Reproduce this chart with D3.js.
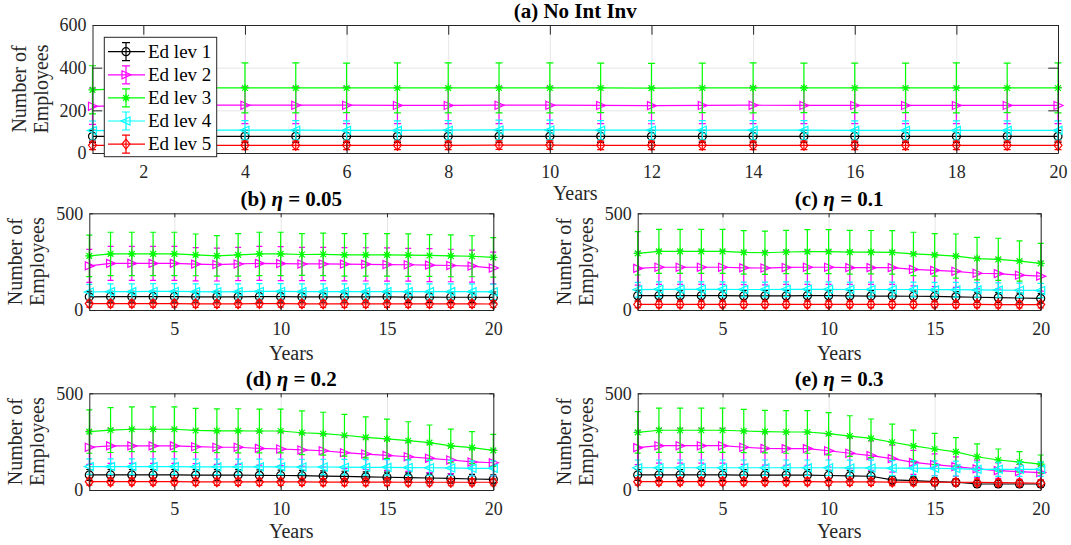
<!DOCTYPE html>
<html lang="en">
<head>
<meta charset="UTF-8">
<title>Number of Employees by education level</title>
<style>
  body { margin: 0; background: #fff; }
  svg { display: block; font-family: "Liberation Serif", "Times New Roman", serif; }
  .tick text { fill: #262626; font-size: 18px; font-family: "Liberation Serif", serif; }
  .frame path.domain, .frame line { stroke: #262626; }
  .grid line { stroke: #e6e6e6; }
  .grid path { display: none; }
  .title { font-weight: bold; font-size: 21px; fill: #000; }
  .lab { font-size: 20px; fill: #262626; }
  .leg text { font-size: 19px; fill: #000; }
</style>
</head>
<body>
<script src="https://d3js.org/d3.v7.min.js"></script>
<script>
// years on the x axis
var years = [1,2,3,4,5,6,7,8,9,10,11,12,13,14,15,16,17,18,19,20];
var seriesNames = ["Ed lev 1", "Ed lev 2", "Ed lev 3", "Ed lev 4", "Ed lev 5"];
var ticksA = [2,4,6,8,10,12,14,16,18,20];
var ticksSmall = [5,10,15,20];
var yTicksA = [0,200,400,600];
var yTicksSmall = [0,500];

// (a) No Int Inv : means (lev1..lev5) and error half-widths
var meanA = [
  [78,78,78,78,78,78,78,78,78,78,78,78,78,78,78,78,78,78,78,78],
  [219,224,224,224,224,224,223,223,224,224,223,222,223,224,223,223,223,223,223,223],
  [296,305,305,305,305,305,305,305,305,305,305,304,305,305,305,305,305,305,305,305],
  [105,107,107,107,107,106,106,107,108,108,107,107,107,107,107,106,106,106,106,106],
  [36,36,36,36,36,36,36,36,37,37,36,36,36,36,36,36,36,36,36,36]
];
var errA = [
  [28,28,28,28,28,28,28,28,28,28,28,28,28,28,28,28,28,28,28,28],
  [85,86,86,86,86,86,85,85,86,86,85,85,85,86,85,85,85,85,85,85],
  [113,117,117,117,117,116,117,117,117,117,116,116,116,117,116,116,116,117,116,117],
  [45,45,45,45,45,45,45,45,46,46,45,45,45,45,45,45,45,45,45,45],
  [20,20,20,20,20,20,20,20,20,20,20,20,20,20,20,20,20,20,20,20]
];

// (b) eta = 0.05
var meanB = [
  [68,69,69,69,69,68,68,68,69,69,68,68,68,68,68,67,67,66,66,65],
  [228,241,241,241,241,237,235,238,241,240,238,238,237,236,235,234,232,230,227,217],
  [280,290,290,290,290,285,280,285,290,290,287,288,285,285,285,284,282,280,278,272],
  [93,95,95,96,96,95,94,95,96,96,95,95,95,95,95,95,95,95,95,94],
  [33,33,33,33,33,32,32,32,33,33,32,32,32,32,32,32,32,32,32,31]
];
var errB = [
  [28,28,28,28,28,28,28,28,28,28,28,28,28,28,28,28,28,28,28,28],
  [85,88,88,88,88,86,85,86,88,88,86,86,86,86,86,85,85,84,83,82],
  [107,112,112,112,112,108,105,110,112,112,108,110,110,110,110,110,108,108,106,102],
  [40,40,40,40,40,40,40,40,40,40,40,40,40,40,40,40,40,40,40,40],
  [18,18,18,18,18,18,18,18,18,18,18,18,18,18,18,18,18,18,18,18]
];

// (c) eta = 0.1
var meanC = [
  [74,74,74,74,74,73,73,73,74,74,73,72,72,71,70,68,66,64,62,60],
  [215,221,221,221,221,218,217,220,221,221,219,219,219,210,205,200,190,188,180,175],
  [293,303,303,303,303,298,296,300,302,302,299,299,298,290,285,279,266,262,253,241],
  [105,107,107,107,107,106,106,107,107,107,106,106,106,106,105,105,104,103,102,101],
  [29,29,29,29,29,29,29,29,29,29,29,29,29,29,29,29,29,28,28,28]
];
var errC = [
  [28,28,28,28,28,28,28,28,28,28,28,28,28,27,27,27,26,26,25,25],
  [86,88,88,88,88,87,87,88,88,88,87,87,87,85,84,83,81,80,78,77],
  [112,114,114,114,114,112,112,112,114,114,113,112,112,112,110,114,110,109,104,104],
  [38,38,38,38,38,38,38,38,38,38,38,38,38,38,38,38,38,37,37,37],
  [17,17,17,17,17,17,17,17,17,17,17,17,17,17,17,17,17,17,17,17]
];

// (d) eta = 0.2
var meanD = [
  [78,78,78,78,78,77,77,77,76,75,74,72,70,68,66,64,62,60,57,55],
  [221,228,228,228,228,224,221,221,215,212,207,203,193,186,179,172,164,155,145,141],
  [302,310,314,314,314,308,306,306,305,305,296,291,283,272,264,255,245,228,219,205],
  [121,121,121,121,121,120,120,120,120,120,119,119,118,117,117,116,115,114,112,112],
  [43,43,43,43,43,42,42,42,42,42,42,41,41,41,41,40,40,40,40,40]
];
var errD = [
  [28,28,28,28,28,28,28,28,28,28,27,27,27,26,26,25,25,24,24,23],
  [88,90,90,90,90,88,88,88,86,86,85,84,82,80,78,76,74,72,70,68],
  [112,116,116,116,116,114,113,114,113,113,113,111,108,106,102,98,91,87,83,83],
  [40,40,40,40,40,40,40,40,40,40,40,40,40,40,40,40,39,39,39,39],
  [18,18,18,18,18,18,18,18,18,18,18,18,18,18,18,18,18,18,18,18]
];

// (e) eta = 0.3
var meanE = [
  [78,78,78,78,78,77,77,77,77,75,73,71,52,48,43,40,31,31,31,31],
  [219,229,229,229,229,221,215,214,214,203,190,178,162,143,131,121,109,100,95,90],
  [298,309,309,309,309,305,302,300,300,291,279,267,247,228,212,197,172,155,145,134],
  [115,115,115,115,115,115,115,115,115,115,114,114,113,113,112,111,107,107,107,107],
  [43,43,43,43,43,43,43,43,43,42,42,42,41,41,41,40,39,38,37,35]
];
var errE = [
  [28,28,28,28,28,28,28,28,28,27,27,26,22,21,20,19,17,17,17,17],
  [88,90,90,90,90,88,86,86,86,84,80,76,70,62,56,50,45,40,38,36],
  [107,114,114,114,114,112,110,110,110,109,105,100,94,82,81,74,66,57,53,47],
  [40,40,40,40,40,40,40,40,40,40,40,40,39,39,39,38,37,37,37,37],
  [18,18,18,18,18,18,18,18,18,18,18,18,18,18,18,18,17,17,17,17]
];

var colors = ["#000000", "#ff00ff", "#00ff00", "#00ffff", "#ff0000"];
var markers = ["o", ">", "*", "<", "d"];

// panel layout (pixel boxes)
var panels = [
  {title: ["(a) No Int Inv"], mean: meanA, err: errA, x0: 92.5, x1: 1058, y0: 25, y1: 153,
   ymax: 600, xt: ticksA, yt: yTicksA, tick: 9.7, titleY: 18, xlabY: 200, cap: 7, legend: true},
  {title: ["(b) ", "η", " = 0.05"], mean: meanB, err: errB, x0: 89.3, x1: 493.3, y0: 213.3, y1: 310,
   ymax: 500, xt: ticksSmall, yt: yTicksSmall, tick: 4, titleY: 206, xlabY: 360, cap: 6},
  {title: ["(c) ", "η", " = 0.1"], mean: meanC, err: errC, x0: 637.7, x1: 1040.7, y0: 213.3, y1: 310,
   ymax: 500, xt: ticksSmall, yt: yTicksSmall, tick: 4, titleY: 206, xlabY: 360, cap: 6},
  {title: ["(d) ", "η", " = 0.2"], mean: meanD, err: errD, x0: 89.3, x1: 493.3, y0: 393.3, y1: 490,
   ymax: 500, xt: ticksSmall, yt: yTicksSmall, tick: 4, titleY: 386, xlabY: 538, cap: 6},
  {title: ["(e) ", "η", " = 0.3"], mean: meanE, err: errE, x0: 637.7, x1: 1040.7, y0: 393.3, y1: 490,
   ymax: 500, xt: ticksSmall, yt: yTicksSmall, tick: 4, titleY: 386, xlabY: 538, cap: 6}
];

var W = 1071, H = 545;
var svg = d3.select("body").append("svg").attr("width", W).attr("height", H);

function markerPath(m, s) {
  if (m === "o") return d3.symbol(d3.symbolCircle, Math.PI * s * s)();
  if (m === ">") return "M" + (-s) + "," + (-s) + "L" + (s + 1) + ",0L" + (-s) + "," + s + "Z";
  if (m === "<") return "M" + s + "," + (-s) + "L" + (-s - 1) + ",0L" + s + "," + s + "Z";
  if (m === "d") return "M0," + (-s - 1) + "L" + s + ",0L0," + (s + 1) + "L" + (-s) + ",0Z";
  var d = s * 0.72;
  return "M0," + (-s) + "V" + s + "M" + (-s) + ",0H" + s +
         "M" + (-d) + "," + (-d) + "L" + d + "," + d + "M" + (-d) + "," + d + "L" + d + "," + (-d);
}

panels.forEach(function(p) {
  var x = d3.scaleLinear().domain([1, 20]).range([p.x0, p.x1]);
  var y = d3.scaleLinear().domain([0, p.ymax]).range([p.y1, p.y0]);
  var w = p.x1 - p.x0, h = p.y1 - p.y0;
  var g = svg.append("g");

  // grid
  g.append("g").attr("class", "grid").attr("transform", "translate(0," + p.y1 + ")")
    .call(d3.axisBottom(x).tickValues(p.xt).tickSize(-h).tickFormat(""));
  g.append("g").attr("class", "grid").attr("transform", "translate(" + p.x0 + ",0)")
    .call(d3.axisLeft(y).tickValues(p.yt).tickSize(-w).tickFormat(""));

  // series
  p.mean.forEach(function(vals, si) {
    var pts = years.map(function(yr, i) { return {x: yr, m: vals[i], e: p.err[si][i]}; });
    var sg = g.append("g").attr("stroke", colors[si]).attr("fill", "none").attr("stroke-width", 1.2);
    sg.selectAll(".eb").data(pts).enter().append("path")
      .attr("d", function(d) {
        var cx = x(d.x), t = y(d.m + d.e), b = y(d.m - d.e), c = p.cap / 2;
        return "M" + cx + "," + t + "V" + b + "M" + (cx - c) + "," + t + "H" + (cx + c) +
               "M" + (cx - c) + "," + b + "H" + (cx + c);
      });
    sg.append("path").datum(pts)
      .attr("d", d3.line().x(function(d) { return x(d.x); }).y(function(d) { return y(d.m); }));
    sg.selectAll(".mk").data(pts).enter().append("path")
      .attr("transform", function(d) { return "translate(" + x(d.x) + "," + y(d.m) + ")"; })
      .attr("d", markerPath(markers[si], 4));
  });

  // frame with inward ticks
  g.append("g").attr("class", "frame").attr("transform", "translate(0," + p.y1 + ")")
    .call(d3.axisBottom(x).tickValues(p.xt).tickSize(-p.tick).tickSizeOuter(0).tickPadding(12));
  g.append("g").attr("class", "frame").attr("transform", "translate(0," + p.y0 + ")")
    .call(d3.axisTop(x).tickValues(p.xt).tickSize(-p.tick).tickSizeOuter(0).tickFormat(""));
  g.append("g").attr("class", "frame").attr("transform", "translate(" + p.x0 + ",0)")
    .call(d3.axisLeft(y).tickValues(p.yt).tickSize(-p.tick).tickSizeOuter(0).tickPadding(6));
  g.append("g").attr("class", "frame").attr("transform", "translate(" + p.x1 + ",0)")
    .call(d3.axisRight(y).tickValues(p.yt).tickSize(-p.tick).tickSizeOuter(0).tickFormat(""));

  // title
  var t = g.append("text").attr("class", "title").attr("x", (p.x0 + p.x1) / 2).attr("y", p.titleY)
    .attr("text-anchor", "middle");
  p.title.forEach(function(s, i) {
    t.append("tspan").text(s).style("font-style", i === 1 ? "italic" : "normal");
  });

  // axis labels
  g.append("text").attr("class", "lab").attr("x", (p.x0 + p.x1) / 2).attr("y", p.xlabY)
    .attr("text-anchor", "middle").text("Years");
  var cy = (p.y0 + p.y1) / 2;
  g.append("text").attr("class", "lab").attr("text-anchor", "middle")
    .attr("transform", "translate(" + (p.x0 - 67) + "," + cy + ") rotate(-90)").text("Number of");
  g.append("text").attr("class", "lab").attr("text-anchor", "middle")
    .attr("transform", "translate(" + (p.x0 - 45) + "," + cy + ") rotate(-90)").text("Employees");

  if (p.legend) {
    var lg = g.append("g").attr("class", "leg");
    lg.append("rect").attr("x", 104.3).attr("y", 37.3).attr("width", 112.4).attr("height", 119.4)
      .attr("fill", "#fff").attr("stroke", "#262626").attr("stroke-width", 1);
    seriesNames.forEach(function(name, si) {
      var ry = 51.7 + si * 23.1;
      var r = lg.append("g").attr("stroke", colors[si]).attr("fill", "none").attr("stroke-width", 1.2);
      r.append("path").attr("d", "M108," + ry + "H145M126," + (ry - 9) + "V" + (ry + 9) +
        "M122," + (ry - 9) + "H130M122," + (ry + 9) + "H130");
      r.append("path").attr("transform", "translate(126," + ry + ")").attr("d", markerPath(markers[si], 4));
      lg.append("text").attr("x", 148).attr("y", ry + 6).text(name);
    });
  }
});
</script>
</body>
</html>
